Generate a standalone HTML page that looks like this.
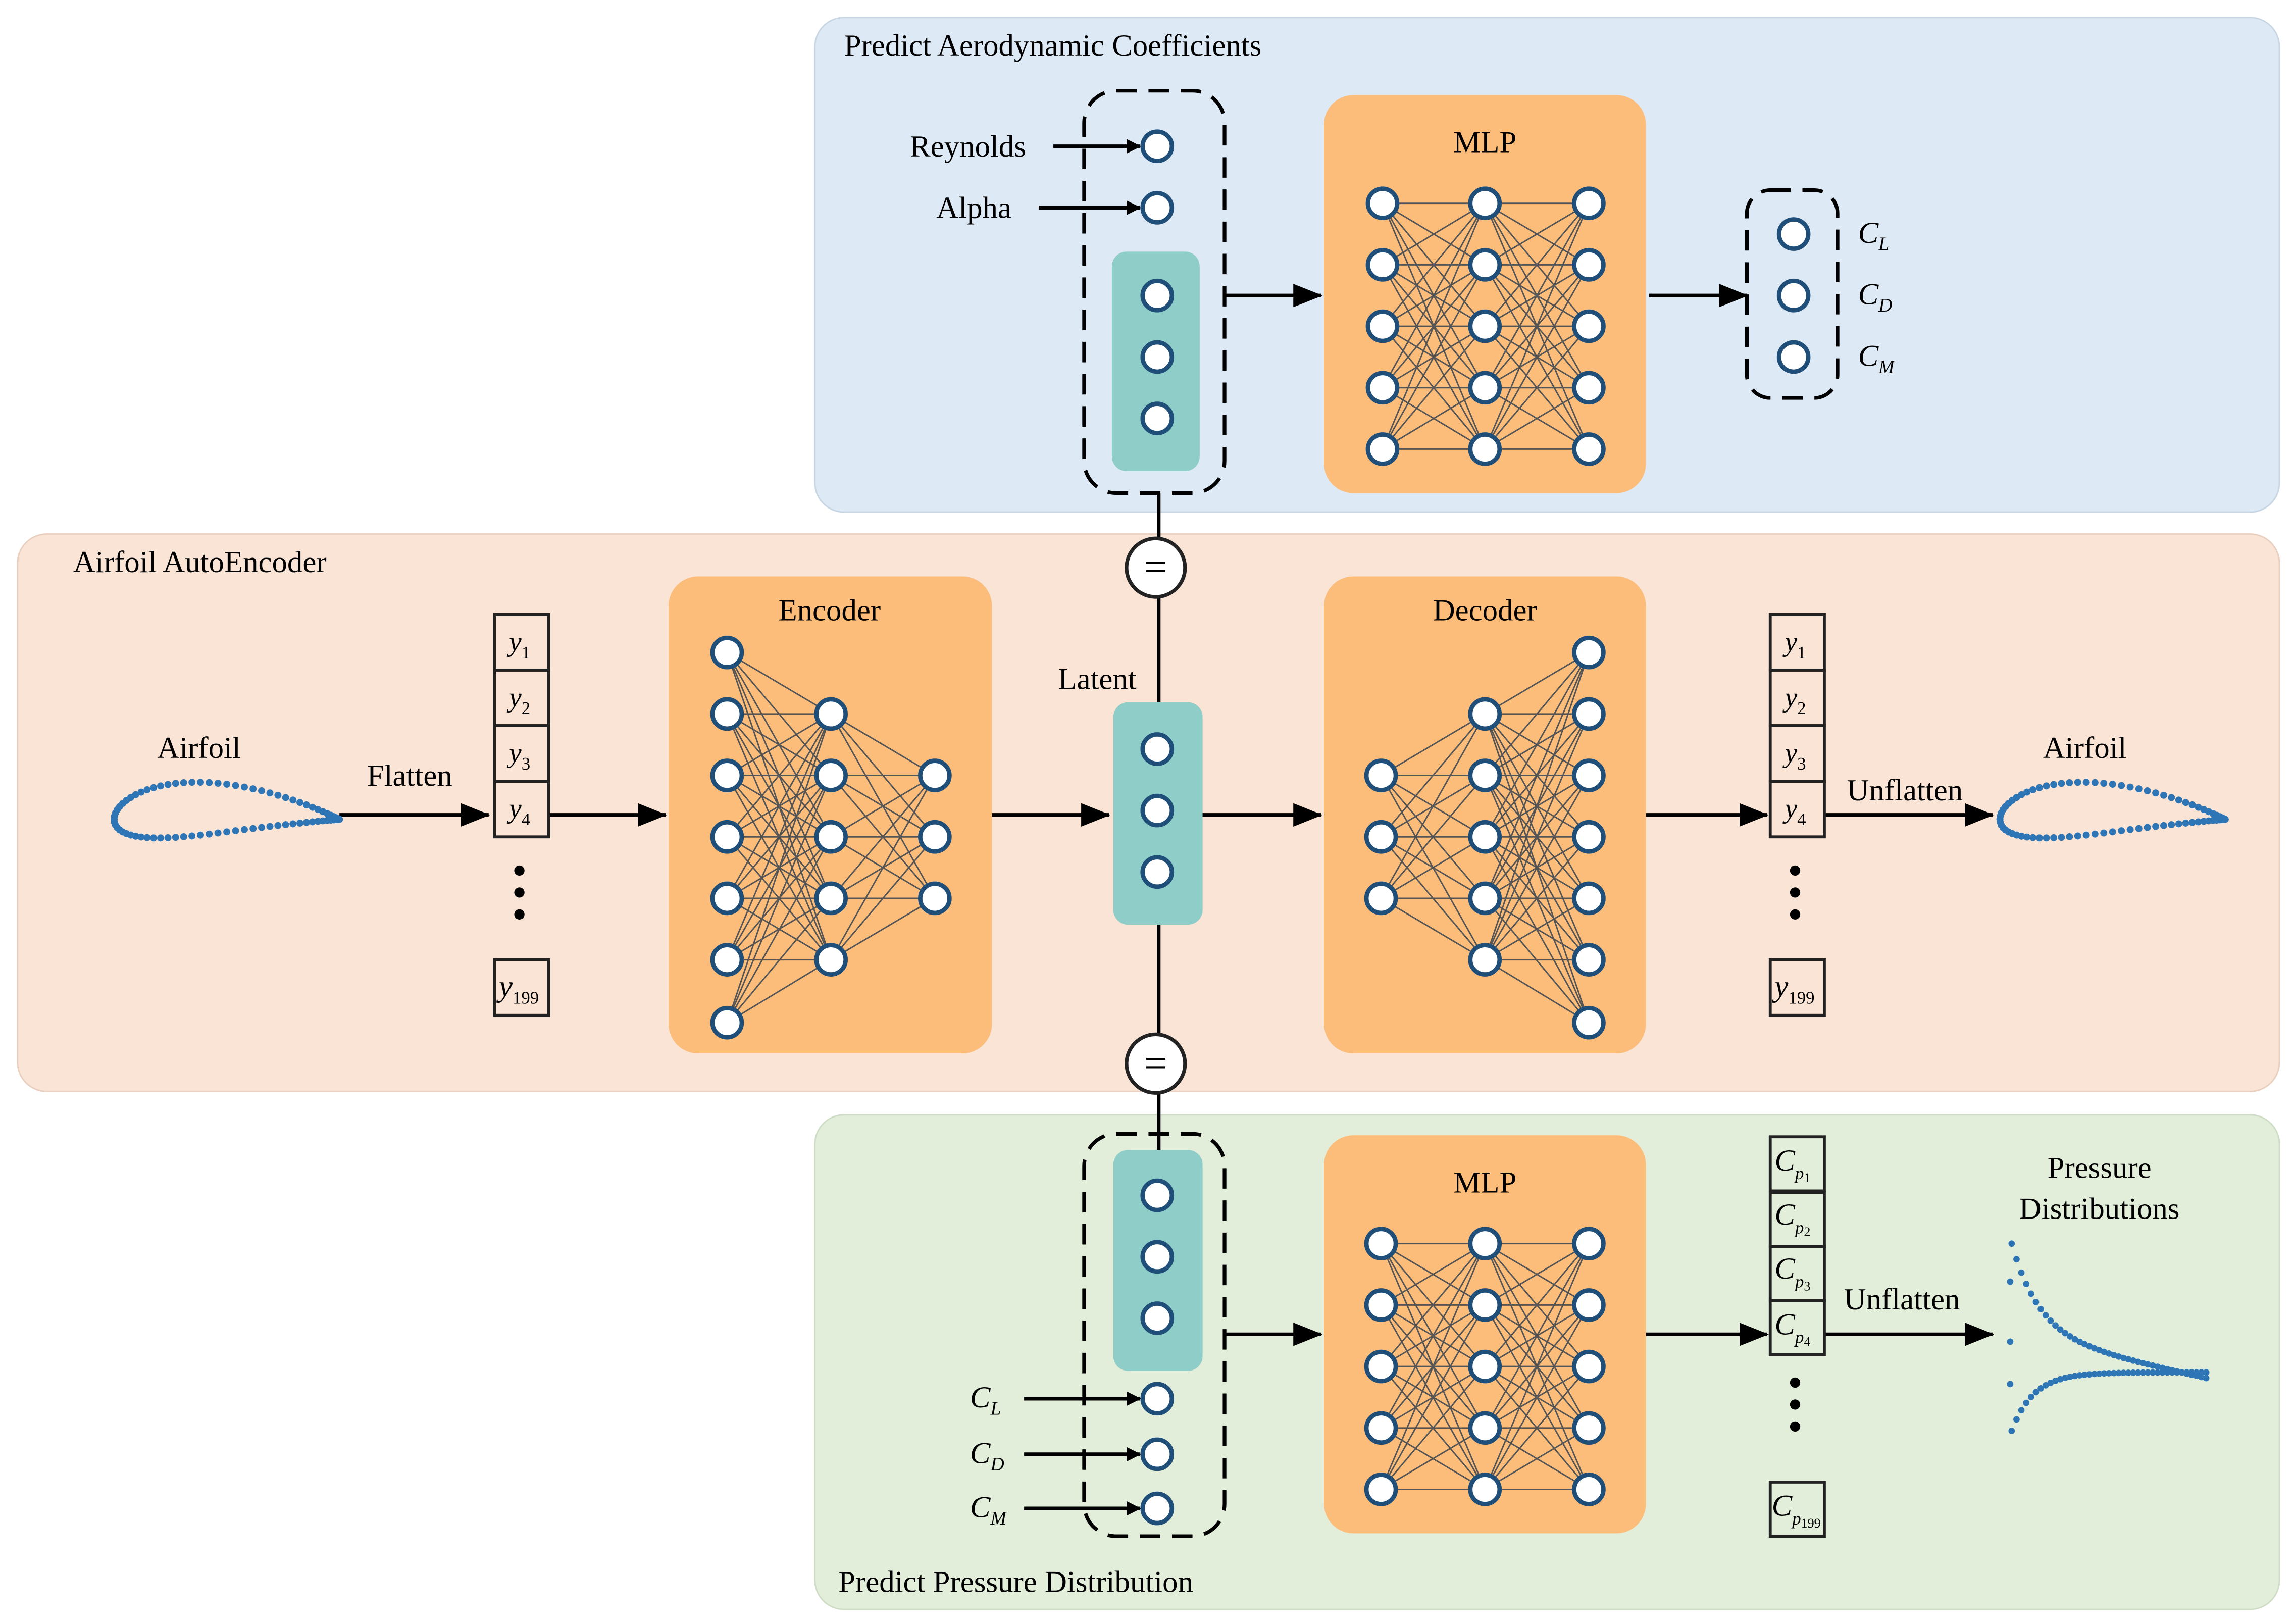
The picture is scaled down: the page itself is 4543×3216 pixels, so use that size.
<!DOCTYPE html>
<html><head><meta charset="utf-8"><style>
html,body{margin:0;padding:0;background:#fff;}
svg{display:block;}
text{font-family:"Liberation Serif","Times New Roman","DejaVu Serif",serif;fill:#000;}
</style></head><body>
<svg id="s" width="4543" height="3216" viewBox="0 0 1568 1110" xmlns="http://www.w3.org/2000/svg" font-family="Liberation Serif, DejaVu Serif, serif">
<defs><marker id="ah" markerWidth="10" markerHeight="10" refX="9" refY="5" orient="auto" markerUnits="userSpaceOnUse"><path d="M0,0 L10,5 L0,10 z" fill="#000"/></marker>
<marker id="ah2" markerWidth="20" markerHeight="16" refX="19" refY="8" orient="auto" markerUnits="userSpaceOnUse"><path d="M0,0 L20,8 L0,16 z" fill="#000"/></marker></defs>
<rect x="557" y="12" width="1001" height="338" rx="20" fill="#dde9f5" stroke="#c8d6e4"/>
<rect x="12" y="365" width="1546" height="381" rx="20" fill="#f9e4d6" stroke="#e8cfc0"/>
<rect x="557" y="762" width="1001" height="338" rx="20" fill="#e2eed9" stroke="#cfdcc6"/>
<text x="577" y="38" font-size="21">Predict Aerodynamic Coefficients</text>
<text x="50" y="391" font-size="21">Airfoil AutoEncoder</text>
<text x="573" y="1088" font-size="21">Predict Pressure Distribution</text>
<g id="g"></g>
<g font-size="21">
<text x="622" y="107">Reynolds</text><text x="640" y="149">Alpha</text>
<text x="1015" y="104" text-anchor="middle">MLP</text>
<text x="1015" y="815" text-anchor="middle">MLP</text>
<text x="567" y="424" text-anchor="middle">Encoder</text>
<text x="1015" y="424" text-anchor="middle">Decoder</text>
<text x="750" y="471" text-anchor="middle">Latent</text>
<text x="136" y="518" text-anchor="middle">Airfoil</text>
<text x="1425" y="518" text-anchor="middle">Airfoil</text>
<text x="280" y="537" text-anchor="middle">Flatten</text>
<text x="1302" y="547" text-anchor="middle">Unflatten</text>
<text x="1300" y="895" text-anchor="middle">Unflatten</text>
<text x="1435" y="805" text-anchor="middle">Pressure</text>
<text x="1435" y="833" text-anchor="middle">Distributions</text>
</g>
<g font-size="21" font-style="italic">
<text x="1270" y="166">C<tspan font-size="13" dy="5">L</tspan></text>
<text x="1270" y="208">C<tspan font-size="13" dy="5">D</tspan></text>
<text x="1270" y="250">C<tspan font-size="13" dy="5">M</tspan></text>
<text x="663" y="962">C<tspan font-size="13" dy="5">L</tspan></text>
<text x="663" y="1000">C<tspan font-size="13" dy="5">D</tspan></text>
<text x="663" y="1037">C<tspan font-size="13" dy="5">M</tspan></text>
</g>
<g font-size="19" font-style="italic">
<text x="348" y="445">y<tspan font-size="12" font-style="normal" dy="5">1</tspan></text>
<text x="348" y="483">y<tspan font-size="12" font-style="normal" dy="5">2</tspan></text>
<text x="348" y="521">y<tspan font-size="12" font-style="normal" dy="5">3</tspan></text>
<text x="348" y="559">y<tspan font-size="12" font-style="normal" dy="5">4</tspan></text>
<text x="341" y="681" font-size="21">y<tspan font-size="12" font-style="normal" dy="5">199</tspan></text>
<text x="1220" y="445">y<tspan font-size="12" font-style="normal" dy="5">1</tspan></text>
<text x="1220" y="483">y<tspan font-size="12" font-style="normal" dy="5">2</tspan></text>
<text x="1220" y="521">y<tspan font-size="12" font-style="normal" dy="5">3</tspan></text>
<text x="1220" y="559">y<tspan font-size="12" font-style="normal" dy="5">4</tspan></text>
<text x="1213" y="681" font-size="21">y<tspan font-size="12" font-style="normal" dy="5">199</tspan></text>
<text x="1213" y="800" font-size="21">C<tspan font-size="12" dy="6">p<tspan font-size="9" font-style="normal" dy="2">1</tspan></tspan></text>
<text x="1213" y="837" font-size="21">C<tspan font-size="12" dy="6">p<tspan font-size="9" font-style="normal" dy="2">2</tspan></tspan></text>
<text x="1213" y="874" font-size="21">C<tspan font-size="12" dy="6">p<tspan font-size="9" font-style="normal" dy="2">3</tspan></tspan></text>
<text x="1213" y="912" font-size="21">C<tspan font-size="12" dy="6">p<tspan font-size="9" font-style="normal" dy="2">4</tspan></tspan></text>
<text x="1211" y="1036" font-size="21">C<tspan font-size="12" dy="6">p<tspan font-size="9" font-style="normal" dy="2">199</tspan></tspan></text>
</g>
<text x="790" y="397" font-size="28" text-anchor="middle" font-family="Liberation Sans">=</text>
<text x="790" y="736" font-size="28" text-anchor="middle" font-family="Liberation Sans">=</text>
</svg>
<script>
var NS="http://www.w3.org/2000/svg",g=document.getElementById("g");
function el(t,a){var e=document.createElementNS(NS,t);for(var k in a)e.setAttribute(k,a[k]);g.appendChild(e);return e;}
function line(x1,y1,x2,y2,w,c,m){var a={x1:x1,y1:y1,x2:x2,y2:y2,stroke:c||"#000","stroke-width":w||2.5};if(m)a["marker-end"]="url(#"+m+")";el("line",a);}
function node(x,y){el("circle",{cx:x,cy:y,r:10,fill:"#fff",stroke:"#1f4e79","stroke-width":3});}
function rrect(x,y,w,h,r,f,s,d){var a={x:x,y:y,width:w,height:h,rx:r,fill:f};if(s){a.stroke=s;a["stroke-width"]=2.5;}if(d)a["stroke-dasharray"]=d;el("rect",a);}
function net(cols){for(var i=0;i<cols.length-1;i++){var A=cols[i],B=cols[i+1];A[1].forEach(function(ya){B[1].forEach(function(yb){line(A[0],ya,B[0],yb,1,"#555");});});}
cols.forEach(function(c){c[1].forEach(function(y){node(c[0],y);});});}
line(792,337,792,370);line(792,406,792,480);line(792,632,792,707);line(792,745,792,786);
rrect(741,62,96,275,22,"none","#000","14,8");
rrect(760,172,60,150,10,"#8ecdc8");
[100,142,202,244,286].forEach(function(y){node(791,y);});
line(720,100,779,100,2.5,"#000","ah");line(710,142,779,142,2.5,"#000","ah");
rrect(905,65,220,272,20,"#fdbd7a");
var r5=[139,181,223,265,307];net([[945,r5],[1015,r5],[1086,r5]]);
line(837,202,903,202,2.5,"#000","ah2");line(1127,202,1194,202,2.5,"#000","ah2");
rrect(1194,130,62,142,16,"none","#000","14,8");
[160,202,244].forEach(function(y){node(1226,y);});
rrect(457,394,221,326,20,"#fdbd7a");
var r7=[446,488,530,572,614,656,699],r5m=[488,530,572,614,656],r3=[530,572,614];
net([[497,r7],[568,r5m],[639,r3]]);
rrect(905,394,220,326,20,"#fdbd7a");
net([[944,r3],[1015,r5m],[1086,r7]]);
rrect(761,480,61,152,10,"#8ecdc8");
[512,554,596].forEach(function(y){node(791,y);});
line(232,557,334,557,2.5,"#000","ah2");line(375,557,455,557,2.5,"#000","ah2");
line(678,557,758,557,2.5,"#000","ah2");line(822,557,903,557,2.5,"#000","ah2");
line(1125,557,1208,557,2.5,"#000","ah2");line(1247,557,1362,557,2.5,"#000","ah2");
function boxes(x,ys,h){ys.forEach(function(y){el("rect",{x:x,y:y,width:37,height:h,fill:"none",stroke:"#222","stroke-width":2});});}
boxes(338,[420,458,496,534],38);boxes(338,[656],38);
boxes(1210,[420,458,496,534],38);boxes(1210,[656],38);
[595,610,625].forEach(function(y){el("circle",{cx:355,cy:y,r:3.5,fill:"#000"});el("circle",{cx:1227,cy:y,r:3.5,fill:"#000"});});
el("circle",{cx:790,cy:388,r:20,fill:"#fff",stroke:"#222","stroke-width":2.5});
el("circle",{cx:790,cy:727,r:20,fill:"#fff",stroke:"#222","stroke-width":2.5});
function airfoil(x0,len,yc){for(var i=0;i<=40;i++){var t=i/40,x=(1-Math.cos(Math.PI*t))/2;
var th=5*0.24*(0.2969*Math.sqrt(x)-0.126*x-0.3516*x*x+0.2843*x*x*x-0.1036*x*x*x*x);
var cam=0.05*x*(1-x)*4;
[yc-(th+cam)*len, yc+(th-cam)*len].forEach(function(y){el("circle",{cx:x0+x*len,cy:y,r:2.4,fill:"#2e75b6"});});}}
airfoil(78,154,560);airfoil(1367,154,560);
rrect(741,775,96,275,22,"none","#000","14,8");
rrect(761,786,61,151,10,"#8ecdc8");
[817,859,901,956,994,1031].forEach(function(y){node(791,y);});
line(700,956,779,956,2.5,"#000","ah");line(700,994,779,994,2.5,"#000","ah");line(700,1031,779,1031,2.5,"#000","ah");
rrect(905,776,220,272,20,"#fdbd7a");
var rb=[850,892,934,976,1018];net([[944,rb],[1015,rb],[1086,rb]]);
line(837,912,903,912,2.5,"#000","ah2");line(1125,912,1208,912,2.5,"#000","ah2");line(1247,912,1362,912,2.5,"#000","ah2");
boxes(1210,[777,815,852,889],37);boxes(1210,[1013],37);
[945,960,975].forEach(function(y){el("circle",{cx:1227,cy:y,r:3.5,fill:"#000"});});
for(var i=0;i<=40;i++){var t=i/40;var x=1375+t*133;
var yu=942-(942-912)*(1-t)-62*Math.exp(-t*7);var yl=942-4*(1-Math.exp(-t*6))+36*Math.exp(-t*9);
el("circle",{cx:x,cy:yu,r:2.2,fill:"#2e75b6"});el("circle",{cx:x,cy:yl,r:2.2,fill:"#2e75b6"});}
[876,917,946].forEach(function(y){el("circle",{cx:1374,cy:y,r:2.2,fill:"#2e75b6"});});
</script>
</body></html>
